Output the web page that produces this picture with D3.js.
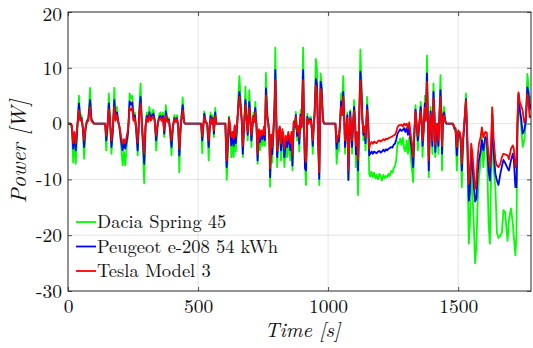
<!DOCTYPE html>
<html><head><meta charset="utf-8">
<script src="https://cdn.jsdelivr.net/npm/d3@7"></script>
<style>
html,body{margin:0;padding:0;background:#fff;}
svg{display:block;}
</style></head>
<body>
<svg id="chart" width="533" height="348"></svg>
<script>
// ---- data ----
const seriesNames = ["Dacia Spring 45", "Peugeot e-208 54 kWh", "Tesla Model 3"];
const seriesColors = ["#00ff00", "#0000ff", "#ff0000"];
const xTicks = [0, 500, 1000, 1500];
const yTicks = [-30, -20, -10, 0, 10, 20];
const xDomain = [0, 1780];
const yDomain = [-30, 20];

const time = [
  0,10,15,20,25,30,35,42,47,52,57,62,67,72,78,85,90,95,100,
  143,147,152,157,162,167,172,178,183,188,193,198,204,210,215,220,226,231,
  237,242,247,252,257,262,268,274,279,284,289,293,298,303,308,313,318,323,328,333,339,345,
  350,355,360,365,370,376,382,388,393,398,403,409,414,419,424,428,433,437,441,446,450,
  512,516,520,524,529,535,541,545,548,553,557,561,566,570,605,
  610,614,619,624,628,633,637,641,645,650,655,659,664,668,672,677,682,687,691,697,701,705,
  710,713,717,720,725,729,734,738,743,748,754,757,761,766,770,774,777,781,785,790,794,797,801,
  804,809,814,819,824,828,832,837,842,847,851,855,859,863,868,872,876,881,886,889,894,898,
  904,908,911,915,920,924,928,934,938,941,945,948,953,957,962,966,971,975,980,985,
  1028,1033,1037,1041,1046,1050,1054,1058,1062,1065,1070,1074,1078,1082,1085,1089,1092,1096,1100,1104,
  1107,1111,1115,1119,1124,1128,1132,1136,1140,1144,1147,1150,1154,1158,
  1162,1167,1172,1177,1182,1187,1192,1197,1202,1207,1212,1217,1222,1227,1232,1237,1242,1247,1252,1257,1262,
  1267,1272,1277,1282,1287,1292,1297,1302,1307,1312,1317,1322,1327,1331,
  1336,1340,1345,1350,1356,1360,1363,1368,1372,1376,1380,1384,1387,1391,1394,1398,1401,1405,1409,1412,1416,1419,1424,1428,1432,1435,1438,1442,1446,1450,1455,
  1480,1485,1490,1495,1500,1505,1510,1514,1519,1524,1530,1535,1541,1545,1550,1555,1560,1565,1570,1575,1580,
  1586,1591,1597,1604,1610,1617,1622,1627,1631,1636,1643,1649,1655,1662,1668,1674,1680,
  1685,1690,1695,1703,1710,1714,1720,1724,1728,1732,1737,1742,1748,1754,1760,1766,1770,1775,1780
];

const dacia = [
  0,0,-1,-7,-3,-7.2,-2,5,1,1.5,-1,-6.3,-1.5,0.5,1,6.4,1,0.5,0,
  0,-4.8,-1,5.4,0.5,-5.4,-2,6.4,1,3,0.5,-1,-4,-7.5,-5,-7.5,-4,-2,
  5.4,4.5,5,1,2,-1.5,-5.7,3,7.2,0,-6,-10.7,-1,2,0.5,3,1,2,2.5,1,-4.8,0,
  1.5,2,1,2,-2.4,3.3,0.5,1,-2,-5.7,-1,1.5,0.5,1.5,-1,-8.7,-1,2,4.7,0.5,0,
  0,-5.3,-1,2.2,0.5,0,-6.6,-1,2,0,1.5,-2.4,2.8,0,0,
  -10.1,-6,1.3,-2,-6,-3,-6,-1,-5,-1,5,8.5,4,1,-6,-1,6.6,1,-3,6,1.5,-4.2,
  0,2,0.5,3.9,-1,-7.2,-2,-4.8,-2.5,-4,-1,-4,9.1,2,0,-3,-11.3,-4,-7,-2,4,13.6,1,
  -7.8,-3,-1,-6.6,-2.4,-4,-7.8,-4,-6,-3,-5,-6.6,-3,-8.4,0.5,-1,2.1,-3,-1,-5,2.4,-1,
  13.6,-2,-7.2,-11,1.8,0,1,1.2,-2,-5.4,0,2.5,11.6,10,-4,-11,9,7.5,1,0,
  0,-7.2,-4,-4.8,0,5.4,3,8.5,2,-5.4,-1,2,-10.1,-3,2.4,-2,-5.4,0,4.2,0,
  -7.8,-3,-12.8,0,13.3,8,1,-3,-1,-4.8,0,4.8,0,-9,
  -9.5,-8.6,-9.6,-8.8,-9.8,-9.2,-10,-9,-9.4,-10.2,-9.2,-9.8,-9.4,-9.6,-9,-9.4,-8.5,-8.8,-8,-7.6,-6.5,
  -3.3,-3.6,-2.7,-3.8,-2.5,-4.5,-5,-3,-5.4,-2.5,-6,-8,-10.5,-4,
  3.3,0,-4.8,-1,3.9,0,-6,-1,5,1,12.2,0,-9.6,-2,3,-1,-5.4,7.2,2,-6,-2,0,-5.4,2,8.7,2,-8.4,2,3,0.5,0,
  0,-1,-1.5,-8.4,-2,-1.8,-4,-11.4,-3.6,0,5.4,-4,-21.5,-18,-8,-12.6,-18,-25,-22,-14,-9.6,
  -7,-1.8,-7.8,-3,-3,-18,-21.5,-8,2.9,-7.8,-11.4,-19.5,-20.5,-20,-19.5,-15.5,-15.8,
  -18.5,-21,-17.3,-15.2,-17.9,-20.3,-23.6,-20,0,5.3,2,-0.5,-4.2,-3,0,8.9,7,3,5
];

const peugeot = [
  0,0,-0.5,-4.5,-2,-4.8,-1.2,3.6,0.8,1,-0.8,-4.2,-1,0.3,0.8,4.2,0.7,0.3,0,
  0,-3,-0.5,3.6,0.3,-4.2,-1.5,4.2,0.7,2,0.5,-0.7,-3,-4.8,-3.5,-4.5,-3,-1.5,
  4,3.4,3.8,0.8,1.5,-1,-4.8,2,4.8,0,-4,-7.2,-0.6,1.4,0.4,2,0.8,1.5,1.8,0.7,-3,0,
  1,1.4,0.7,1.4,-1.8,2.2,0.4,0.7,-1.5,-4.2,-0.7,1,0.4,1,-0.7,-5.7,-0.7,1.5,3.3,0.3,0,
  0,-3,-0.6,1.8,0.3,0,-4.2,-0.5,1.4,0,1,-1.8,2,0,0,
  -7.8,-4.5,1,-1.5,-3.9,-2,-4,-0.5,-3.5,-0.5,3.5,5.7,3,0.5,-5.4,-0.5,4.2,0.6,-2,3.9,1,-3,
  0,1.4,0.3,2.8,-0.7,-6.6,-1.5,-3.3,-1.8,-2.8,-0.7,-3,6.3,1.4,0,-2,-9.6,-3,-5.5,-1.2,3,9.6,0.7,
  -6,-2.2,-0.7,-4.8,-1.5,-3,-6,-3,-4.2,-2,-3.5,-4.8,-2,-7.5,0.3,-0.6,1.5,-2.2,-0.6,-3.6,1.6,-0.6,
  9.6,-1.5,-8,-8.4,1.2,0,0.7,0.8,-1.4,-4,0,1.8,8,7,-3.5,-9.9,7.5,6.3,0.6,0,
  0,-4.5,-3,-3.2,0,4,2,5.7,1.2,-4.2,-0.8,1.5,-10.1,-2,2.1,-1.5,-4.2,0,3,0,
  -5.5,-2,-8.4,0,9.3,6,0.6,-2,-0.7,-3.5,0,3.3,0,-5.7,
  -5.4,-5,-5.4,-5,-5.2,-5.3,-5,-4.9,-5.2,-5,-4.7,-5,-4.6,-4.8,-4.5,-4.4,-4.2,-4.3,-3.8,-3.6,-2.8,
  -1.8,-1.4,-1,-1.3,-1.2,-0.8,-1.5,-0.8,-2,-0.6,-3,-5,-7.8,-2.5,
  2.5,0,-3,-0.5,3,0,-4,-0.6,3.6,0.7,9,0,-8.4,-1.5,2.2,-0.8,-4,5.7,1.5,-5.1,-1.5,0,-4,1.5,6,1.5,-5.4,1.5,2,0.5,0,
  0,-0.8,-1,-5.7,-1.5,-1.5,-3,-8.4,-3,0,4.4,-3,-13.8,-12,-4.8,-7.8,-11,-14,-13.5,-9,-6.5,
  -5,-3,-4.8,-2.4,-2.8,-8.5,-10.2,-5,1.7,-4.8,-9,-10.2,-11,-9,-7.7,-6.5,-7,
  -7.5,-8,-8.4,-6.6,-5.4,-6.5,-11.4,-11.4,-1,5.3,2.5,1,-1.8,-1.2,0.5,6.5,5.5,2.5,3.5
];

const tesla = [
  0,0,-0.3,-3.5,-1.5,-3.6,-0.8,2.4,0.5,0.8,-0.5,-3,-0.8,0.2,0.5,3,0.5,0.2,0,
  0,-2.2,-0.3,2.6,0.2,-3,-1,3,0.5,1.5,0.3,-0.5,-2.3,-3.6,-2.8,-3.5,-2.2,-1,
  2.8,2.4,2.8,0.5,1,-0.7,-3.4,1.5,3.6,0,-3,-5.4,-0.4,1,0.3,1.5,0.5,1,1.2,0.5,-2.2,0,
  0.8,1,0.5,1,-1.2,1.5,0.3,0.5,-1,-3,-0.5,0.8,0.3,0.8,-0.5,-4.5,-0.5,1,2.4,0.2,0,
  0,-2.3,-0.4,1.2,0.2,0,-3,-0.3,0.9,0,0.8,-1.2,1.4,0,0,
  -6.6,-3.5,0.9,-1,-2.4,-1.5,-2.8,-0.3,-2.4,0,2.8,4.8,2.5,0.5,-4,-0.3,3.3,0.5,-1.5,2.8,0.8,-2,
  0,1.2,0.3,2,-0.5,-5.4,-1,-2.4,-1.2,-2,-0.5,-2,5.1,1,0,-1.5,-8,-2,-4.2,-0.8,2.3,7.8,0.5,
  -4.8,-1.5,-0.5,-3.6,-1,-2,-4.6,-2.2,-3,-1.5,-2.5,-3.5,-1.5,-5.7,0.2,-0.4,1.2,-1.5,-0.4,-2.5,1.2,-0.4,
  7.8,-1,-6,-6.9,0.9,0,0.5,0.6,-1,-3,0,1.3,6.9,6,-3,-8.7,6.2,5.2,0.5,0,
  0,-3.3,-2.2,-2.3,0,3,1.5,4.8,1,-3,-0.5,1,-8.4,-1.5,1.5,-1,-3,0,2.3,0,
  -4,-1.5,-6.6,0,7.8,4.8,0.5,-1.5,-0.5,-2.5,0,2.4,0,-4.5,
  -3.6,-3.3,-3.6,-3.2,-3.4,-3.5,-3.1,-3,-3.2,-3,-2.8,-3,-2.7,-2.8,-2.6,-2.5,-2.4,-2.3,-2.1,-2,-1.5,
  -0.6,-0.3,-0.3,-0.2,-0.5,0,-0.3,0,-0.8,0.2,-1.8,-3.5,-6,-1.5,
  2.2,0,-2.2,-0.3,2.2,0,-3,-0.5,2.8,0.5,7.5,0,-6.6,-1,1.6,-0.5,-3,4.5,1,-3.8,-1,0,-3,1,4.8,1.5,-4,1.2,1.5,0.3,0,
  0,-0.6,-0.8,-4.2,-1.2,-1.5,-2.5,-7.2,-2.5,0.5,4.1,-2,-10.8,-9,-3.6,-5.4,-8.5,-11.7,-10.5,-6,-3.6,
  -2.5,-0.7,-2.4,-1.5,-1.6,-6,-7.8,-3,2.9,-2.5,-6.5,-7.5,-7.8,-7.2,-6,-5.4,-5.5,
  -5.6,-5.7,-6.4,-4.5,-3.9,-4.5,-7.8,-7.2,1,5.6,3.8,3.2,2.3,0.2,1,5.3,4,1.1,1.5
];

// ---- chart ----
const svg = d3.select("#chart");
const W = 533, H = 348;
const L = 68, R = 531, T = 12, B = 291;
const font = "'Latin Modern Roman', 'CMU Serif', 'Liberation Serif', 'DejaVu Serif', 'Noto Serif', 'Times New Roman', Times, serif";
const axisColor = "#262626";
svg.attr("font-family", font);

const x = d3.scaleLinear().domain(xDomain).range([L, R]);
const y = d3.scaleLinear().domain(yDomain).range([B, T]);

svg.append("rect").attr("width", W).attr("height", H).attr("fill", "#fff");

// grid
const grid = svg.append("g");
grid.selectAll("line.gx").data(xTicks.filter(d => d > xDomain[0] && d < xDomain[1]))
  .join("line").attr("x1", d => x(d)).attr("x2", d => x(d)).attr("y1", T).attr("y2", B)
  .attr("stroke", "#dcdcdc").attr("stroke-width", 0.8);
grid.selectAll("line.gy").data(yTicks.filter(d => d > yDomain[0] && d < yDomain[1]))
  .join("line").attr("x1", L).attr("x2", R).attr("y1", d => y(d)).attr("y2", d => y(d))
  .attr("stroke", "#dcdcdc").attr("stroke-width", 0.8);

// lines
const clipId = "plotclip";
svg.append("clipPath").attr("id", clipId).append("rect")
  .attr("x", L).attr("y", T).attr("width", R - L).attr("height", B - T);
const seriesData = [dacia, peugeot, tesla];
const line = d3.line().x((d, i) => x(time[i])).y(d => y(d));
const lines = svg.append("g").attr("clip-path", `url(#${clipId})`);
seriesData.forEach((s, k) => {
  lines.append("path").attr("d", line(s)).attr("fill", "none")
    .attr("stroke", seriesColors[k]).attr("stroke-width", 1.8)
    .attr("stroke-linejoin", "round");
});

// axes (inner ticks on all sides)
const tickLen = 4;
const xAxisB = d3.axisBottom(x).tickValues(xTicks).tickSize(-tickLen).tickPadding(8).tickFormat(d3.format("d"));
const xAxisT = d3.axisTop(x).tickValues(xTicks).tickSize(-tickLen).tickFormat("");
const yAxisL = d3.axisLeft(y).tickValues(yTicks).tickSize(-tickLen).tickPadding(6).tickFormat(d => String(d));
const yAxisR = d3.axisRight(y).tickValues(yTicks).tickSize(-tickLen).tickFormat("");

function style(g) {
  g.attr("font-family", font);
  g.select(".domain").attr("stroke", axisColor).attr("stroke-width", 1);
  g.selectAll(".tick line").attr("stroke", axisColor).attr("stroke-width", 0.8);
  g.selectAll(".tick text").attr("fill", "#111").attr("font-family", font).attr("font-size", 19.5);
}
svg.append("g").attr("transform", `translate(0,${B})`).call(xAxisB).call(style);
svg.append("g").attr("transform", `translate(0,${T})`).call(xAxisT).call(style);
svg.append("g").attr("transform", `translate(${L},0)`).call(yAxisL).call(style);
svg.append("g").attr("transform", `translate(${R},0)`).call(yAxisR).call(style);
svg.selectAll(".domain").attr("d", null);
// keep the top "20" label fully inside the picture
svg.selectAll("g.tick text").filter(d => d === yDomain[1]).attr("dy", "0.45em");
svg.append("rect").attr("x", L).attr("y", T).attr("width", R - L).attr("height", B - T)
  .attr("fill", "none").attr("stroke", axisColor).attr("stroke-width", 1);

// axis labels
svg.append("text").attr("x", (L + R) / 2 + 3).attr("y", 337).attr("text-anchor", "middle")
  .attr("font-family", font).attr("font-size", 20.5).attr("font-style", "italic").attr("fill", "#111")
  .text("Time [s]");
svg.append("text").attr("transform", `translate(26,${(T + B) / 2}) rotate(-90)`).attr("text-anchor", "middle")
  .attr("font-family", font).attr("font-size", 22).attr("font-style", "italic").attr("fill", "#111")
  .text("Power [W]");

// legend
const legY = [222, 246.5, 271];
const leg = svg.append("g");
seriesNames.forEach((n, k) => {
  leg.append("line").attr("x1", 76).attr("x2", 96).attr("y1", legY[k]).attr("y2", legY[k])
    .attr("stroke", seriesColors[k]).attr("stroke-width", 1.8);
  leg.append("text").attr("x", 97).attr("y", legY[k]).attr("dy", "0.33em")
    .attr("font-family", font).attr("font-size", 18.5).attr("fill", "#111").text(n);
});
</script>
</body></html>
